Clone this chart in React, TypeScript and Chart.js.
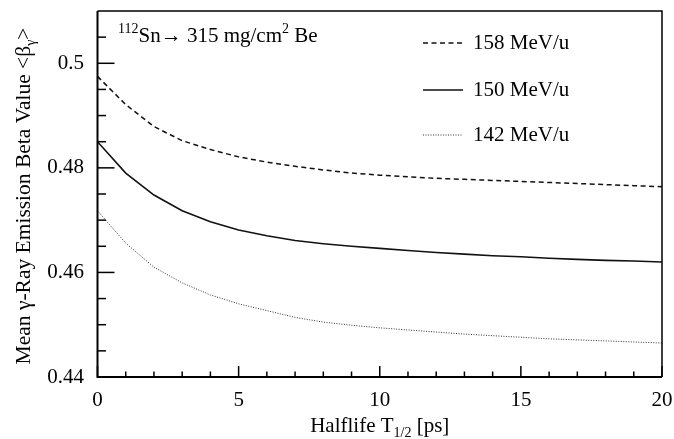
import React, { useEffect, useRef } from "react";
import { Chart, registerables } from "chart.js";

Chart.register(...registerables);

// ---- data ----
const halflife = [0, 1, 2, 3, 4, 5, 6, 7, 8, 9, 10, 11, 12, 13, 14, 15, 16, 17, 18, 19, 20];
const beta158 = [0.4975, 0.4921, 0.4879, 0.4852, 0.4835, 0.4821, 0.4811, 0.4803, 0.4796, 0.4790, 0.4786, 0.4783, 0.4780, 0.4778, 0.4776, 0.4774, 0.4772, 0.4770, 0.4768, 0.4766, 0.4764];
const beta150 = [0.4850, 0.4790, 0.4748, 0.4718, 0.4697, 0.4681, 0.4670, 0.4661, 0.4655, 0.4650, 0.4646, 0.4642, 0.4638, 0.4635, 0.4632, 0.4630, 0.4627, 0.4625, 0.4623, 0.4622, 0.4620];
const beta142 = [0.4718, 0.4656, 0.4610, 0.4580, 0.4557, 0.4540, 0.4527, 0.4514, 0.4505, 0.4499, 0.4494, 0.4490, 0.4486, 0.4482, 0.4479, 0.4476, 0.4473, 0.4471, 0.4469, 0.4467, 0.4465];
const seriesLabels = ["158 MeV/u", "150 MeV/u", "142 MeV/u"];

const xTickValues = [0, 5, 10, 15, 20];
const xTickLabels = ["0", "5", "10", "15", "20"];
const yTickValues = [0.44, 0.46, 0.48, 0.5];
const yTickLabels = ["0.44", "0.46", "0.48", "0.5"];
const xMinorStep = 1;
const yMinorStep = 0.005;

const FONT = '"Liberation Serif", "Times New Roman", serif';

type Run = { text: string; size: number; dy?: number };

function drawRuns(ctx: CanvasRenderingContext2D, runs: Run[], x: number, y: number, align: "left" | "center") {
  ctx.textAlign = "left";
  ctx.textBaseline = "alphabetic";
  const widths = runs.map((r) => {
    ctx.font = `${r.size}px ${FONT}`;
    return ctx.measureText(r.text).width;
  });
  const total = widths.reduce((a, b) => a + b, 0);
  let cx = align === "center" ? x - total / 2 : x;
  runs.forEach((r, i) => {
    ctx.font = `${r.size}px ${FONT}`;
    ctx.fillText(r.text, cx, y + (r.dy || 0));
    cx += widths[i];
  });
}

const decorPlugin = {
  id: "decor",
  afterDatasetsDraw(chart: any) {
    const ctx: CanvasRenderingContext2D = chart.ctx;
    const { left, right, top, bottom } = chart.chartArea;
    const xs = chart.scales.x;
    const ys = chart.scales.y;
    ctx.save();
    ctx.strokeStyle = "#000";
    ctx.setLineDash([]);
    // frame
    ctx.lineWidth = 1.5;
    ctx.beginPath();
    ctx.moveTo(left, top);
    ctx.lineTo(right, top);
    ctx.lineTo(right, bottom);
    ctx.stroke();
    ctx.lineWidth = 2;
    ctx.beginPath();
    ctx.moveTo(left, top);
    ctx.lineTo(left, bottom);
    ctx.lineTo(right, bottom);
    ctx.stroke();
    // x ticks (inward)
    ctx.lineWidth = 1.5;
    for (let v = xs.min; v <= xs.max + 1e-9; v += xMinorStep) {
      const px = xs.getPixelForValue(v);
      const major = xTickValues.some((t) => Math.abs(t - v) < 1e-9);
      const len = major ? 11 : 5.5;
      ctx.beginPath();
      ctx.moveTo(px, bottom);
      ctx.lineTo(px, bottom - len);
      ctx.stroke();
    }
    // y ticks (inward)
    for (let k = 0; ; k++) {
      const v = ys.min + k * yMinorStep;
      if (v > ys.max - 1e-9) break;
      const py = ys.getPixelForValue(v);
      const major = yTickValues.some((t) => Math.abs(t - v) < 1e-9);
      const len = major ? 17 : 8.5;
      ctx.beginPath();
      ctx.moveTo(left, py);
      ctx.lineTo(left + len, py);
      ctx.stroke();
    }
    // legend
    const rows = [43, 90, 135];
    chart.data.datasets.forEach((ds: any, i: number) => {
      ctx.strokeStyle = ds.borderColor;
      ctx.lineWidth = ds.borderWidth;
      ctx.setLineDash(ds.borderDash || []);
      ctx.beginPath();
      ctx.moveTo(423, rows[i]);
      ctx.lineTo(463, rows[i]);
      ctx.stroke();
      ctx.setLineDash([]);
      ctx.fillStyle = "#000";
      ctx.font = `21px ${FONT}`;
      ctx.textAlign = "left";
      ctx.textBaseline = "middle";
      ctx.fillText(ds.label, 473, rows[i]);
    });
    ctx.fillStyle = "#000";
    // title inside plot
    drawRuns(
      ctx,
      [
        { text: "112", size: 14, dy: -9 },
        { text: "Sn\u2192 315 mg/cm", size: 21 },
        { text: "2", size: 14, dy: -9 },
        { text: " Be", size: 21 },
      ],
      118,
      42,
      "left"
    );
    // x axis title
    drawRuns(
      ctx,
      [
        { text: "Halflife T", size: 21 },
        { text: "1/2", size: 14, dy: 5 },
        { text: " [ps]", size: 21 },
      ],
      (left + right) / 2,
      432,
      "center"
    );
    // y axis title
    ctx.save();
    ctx.translate(30, (top + bottom) / 2 + 2);
    ctx.rotate(-Math.PI / 2);
    drawRuns(
      ctx,
      [
        { text: "Mean \u03b3-Ray Emission Beta Value <\u03b2", size: 21.5 },
        { text: "\u03b3", size: 14, dy: 5 },
        { text: ">", size: 21.5 },
      ],
      0,
      0,
      "center"
    );
    ctx.restore();
    ctx.restore();
  },
};

export default function App() {
  const ref = useRef<HTMLCanvasElement | null>(null);
  useEffect(() => {
    if (!ref.current) return;
    const mk = (arr: number[]) => halflife.map((x, i) => ({ x, y: arr[i] }));
    const chart = new Chart(ref.current, {
      type: "line",
      data: {
        datasets: [
          { label: seriesLabels[0], data: mk(beta158), borderColor: "#111", borderWidth: 1.5, borderDash: [5, 3.5], pointRadius: 0, tension: 0, fill: false },
          { label: seriesLabels[1], data: mk(beta150), borderColor: "#111", borderWidth: 1.6, pointRadius: 0, tension: 0, fill: false },
          { label: seriesLabels[2], data: mk(beta142), borderColor: "#333", borderWidth: 1, borderDash: [1, 1.5], pointRadius: 0, tension: 0, fill: false },
        ],
      },
      options: {
        animation: false,
        responsive: false,
        events: [],
        layout: { padding: { left: 0, right: 12, top: 11, bottom: 0 } },
        plugins: { legend: { display: false }, tooltip: { enabled: false }, title: { display: false } },
        scales: {
          x: {
            type: "linear",
            min: 0,
            max: 20,
            grid: { display: false, drawTicks: false },
            border: { display: false },
            afterBuildTicks: (s: any) => {
              s.ticks = xTickValues.map((v) => ({ value: v }));
            },
            afterFit: (s: any) => {
              s.height = 62;
              s.paddingLeft = 0;
              s.paddingRight = 0;
              s.paddingTop = 0;
              s.paddingBottom = 0;
            },
            ticks: {
              autoSkip: false,
              maxRotation: 0,
              padding: 11,
              color: "#000",
              font: { family: FONT, size: 21 },
              callback: (_v: any, i: number) => xTickLabels[i],
            },
          },
          y: {
            type: "linear",
            min: 0.44,
            max: 0.51,
            grid: { display: false, drawTicks: false },
            border: { display: false },
            afterBuildTicks: (s: any) => {
              s.ticks = yTickValues.map((v) => ({ value: v }));
            },
            afterFit: (s: any) => {
              s.width = 97.5;
              s.paddingLeft = 0;
              s.paddingRight = 0;
              s.paddingTop = 0;
              s.paddingBottom = 0;
            },
            ticks: {
              autoSkip: false,
              padding: 13.5,
              color: "#000",
              font: { family: FONT, size: 21 },
              callback: (_v: any, i: number) => yTickLabels[i],
            },
          },
        },
      },
      plugins: [decorPlugin],
    } as any);
    return () => chart.destroy();
  }, []);
  return (
    <div style={{ position: "absolute", left: 0, top: 0, width: 674, height: 439, background: "#fff" }}>
      <canvas ref={ref} width={674} height={439} style={{ display: "block" }} />
    </div>
  );
}
